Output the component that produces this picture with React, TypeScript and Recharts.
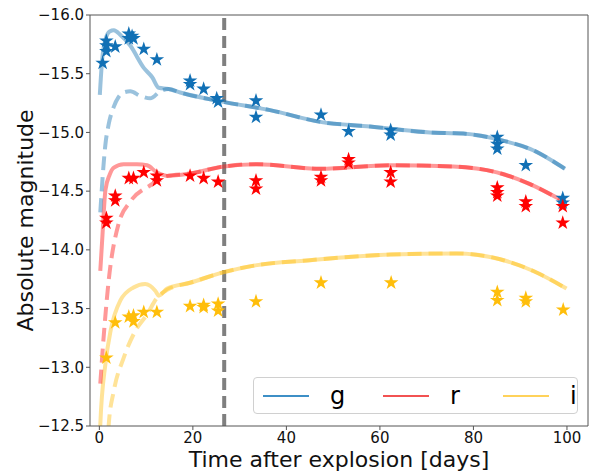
import React from 'react'
import {
  ComposedChart,
  Line,
  Scatter,
  XAxis,
  YAxis,
  ZAxis,
  ReferenceLine,
  Legend,
} from 'recharts'

// observed photometry (days since explosion, absolute magnitude)
const gObs = [
  { t: 0.7, m: -15.59 }, { t: 1.5, m: -15.69 }, { t: 1.5, m: -15.74 }, { t: 1.5, m: -15.78 },
  { t: 3.4, m: -15.73 }, { t: 6.3, m: -15.84 }, { t: 6.3, m: -15.8 }, { t: 7.0, m: -15.82 },
  { t: 7.3, m: -15.8 }, { t: 9.5, m: -15.71 }, { t: 12.3, m: -15.62 }, { t: 19.4, m: -15.44 },
  { t: 19.4, m: -15.41 }, { t: 22.3, m: -15.37 }, { t: 25.1, m: -15.29 }, { t: 25.4, m: -15.26 },
  { t: 33.5, m: -15.27 }, { t: 33.5, m: -15.13 }, { t: 47.4, m: -15.15 }, { t: 53.3, m: -15.01 },
  { t: 62.3, m: -15.02 }, { t: 62.3, m: -14.98 }, { t: 85.1, m: -14.96 }, { t: 85.1, m: -14.9 },
  { t: 85.1, m: -14.86 }, { t: 91.2, m: -14.72 }, { t: 99.1, m: -14.44 }, { t: 99.1, m: -14.4 },
]
const rObs = [
  { t: 1.5, m: -14.27 }, { t: 1.5, m: -14.23 }, { t: 3.4, m: -14.46 }, { t: 3.4, m: -14.42 },
  { t: 6.3, m: -14.61 }, { t: 7.3, m: -14.61 }, { t: 9.5, m: -14.66 }, { t: 12.3, m: -14.63 },
  { t: 12.3, m: -14.59 }, { t: 19.4, m: -14.63 }, { t: 22.3, m: -14.61 }, { t: 25.4, m: -14.58 },
  { t: 33.5, m: -14.59 }, { t: 33.5, m: -14.52 }, { t: 47.4, m: -14.62 }, { t: 47.4, m: -14.59 },
  { t: 53.3, m: -14.77 }, { t: 53.3, m: -14.74 }, { t: 62.3, m: -14.66 }, { t: 62.3, m: -14.58 },
  { t: 85.1, m: -14.53 }, { t: 85.1, m: -14.49 }, { t: 85.1, m: -14.46 }, { t: 91.2, m: -14.41 },
  { t: 91.2, m: -14.37 }, { t: 99.1, m: -14.37 }, { t: 99.1, m: -14.23 },
]
const iObs = [
  { t: 1.5, m: -13.08 }, { t: 3.4, m: -13.38 }, { t: 6.3, m: -13.43 }, { t: 7.3, m: -13.44 },
  { t: 7.3, m: -13.39 }, { t: 9.5, m: -13.47 }, { t: 12.3, m: -13.47 }, { t: 19.4, m: -13.52 },
  { t: 22.3, m: -13.53 }, { t: 22.3, m: -13.51 }, { t: 25.4, m: -13.54 }, { t: 25.4, m: -13.48 },
  { t: 33.5, m: -13.56 }, { t: 47.4, m: -13.72 }, { t: 62.4, m: -13.72 }, { t: 85.1, m: -13.64 },
  { t: 85.1, m: -13.57 }, { t: 91.2, m: -13.59 }, { t: 91.2, m: -13.56 }, { t: 99.2, m: -13.49 },
]

// model light curves: solid = with early excess, dashed = without
const gModelA = [
  { t: 0.1, m: -15.32 }, { t: 0.6, m: -15.62 }, { t: 1.3, m: -15.79 }, { t: 2.2, m: -15.86 },
  { t: 3.1, m: -15.87 }, { t: 4.5, m: -15.83 }, { t: 6.6, m: -15.74 }, { t: 9.5, m: -15.55 },
  { t: 11.3, m: -15.47 }, { t: 12.7, m: -15.38 }, { t: 14.8, m: -15.37 }, { t: 17.3, m: -15.34 },
  { t: 26.5, m: -15.26 }, { t: 36.5, m: -15.19 }, { t: 47.2, m: -15.09 }, { t: 57.9, m: -15.05 },
  { t: 70.7, m: -15.0 }, { t: 77.8, m: -14.99 }, { t: 86.3, m: -14.93 }, { t: 92.1, m: -14.86 },
  { t: 99.6, m: -14.69 },
]
const gModelB = [
  { t: 0.2, m: -14.32 }, { t: 1.3, m: -14.9 }, { t: 2.0, m: -15.07 }, { t: 3.1, m: -15.22 },
  { t: 4.1, m: -15.3 }, { t: 5.2, m: -15.34 }, { t: 6.6, m: -15.35 }, { t: 8.8, m: -15.31 },
  { t: 10.9, m: -15.29 }, { t: 13.0, m: -15.35 }, { t: 14.8, m: -15.37 }, { t: 17.3, m: -15.34 },
  { t: 26.5, m: -15.26 }, { t: 36.5, m: -15.19 }, { t: 47.2, m: -15.09 }, { t: 57.9, m: -15.05 },
  { t: 70.7, m: -15.0 }, { t: 77.8, m: -14.99 }, { t: 86.3, m: -14.93 }, { t: 92.1, m: -14.86 },
  { t: 99.6, m: -14.69 },
]
const rModelA = [
  { t: 0.2, m: -13.82 }, { t: 0.6, m: -14.08 }, { t: 1.3, m: -14.51 }, { t: 2.2, m: -14.64 },
  { t: 3.1, m: -14.7 }, { t: 5.2, m: -14.73 }, { t: 8.0, m: -14.73 }, { t: 10.2, m: -14.72 },
  { t: 12.3, m: -14.66 }, { t: 14.5, m: -14.63 }, { t: 19.4, m: -14.65 }, { t: 26.6, m: -14.71 },
  { t: 33.7, m: -14.73 }, { t: 47.2, m: -14.69 }, { t: 62.2, m: -14.72 }, { t: 75.7, m: -14.71 },
  { t: 85.0, m: -14.66 }, { t: 92.1, m: -14.56 }, { t: 98.5, m: -14.43 },
]
const rModelB = [
  { t: 0.2, m: -12.86 }, { t: 1.0, m: -13.3 }, { t: 2.0, m: -13.74 }, { t: 4.1, m: -14.22 },
  { t: 6.6, m: -14.41 }, { t: 10.9, m: -14.55 }, { t: 14.5, m: -14.63 }, { t: 19.4, m: -14.65 },
  { t: 26.6, m: -14.71 }, { t: 33.7, m: -14.73 }, { t: 47.2, m: -14.69 }, { t: 62.2, m: -14.72 },
  { t: 75.7, m: -14.71 }, { t: 85.0, m: -14.66 }, { t: 92.1, m: -14.56 }, { t: 98.5, m: -14.43 },
]
const iModelA = [
  { t: 0.0, m: -12.3 }, { t: 0.2, m: -12.51 }, { t: 1.3, m: -13.03 }, { t: 2.4, m: -13.31 },
  { t: 4.5, m: -13.57 }, { t: 7.3, m: -13.68 }, { t: 9.8, m: -13.71 }, { t: 12.0, m: -13.65 },
  { t: 12.7, m: -13.61 }, { t: 14.5, m: -13.67 }, { t: 19.4, m: -13.72 }, { t: 26.6, m: -13.81 },
  { t: 33.7, m: -13.87 }, { t: 44.4, m: -13.91 }, { t: 62.2, m: -13.96 }, { t: 76.4, m: -13.97 },
  { t: 85.7, m: -13.92 }, { t: 92.8, m: -13.82 }, { t: 99.9, m: -13.67 },
]
const iModelB = [
  { t: 1.7, m: -12.3 }, { t: 2.0, m: -12.51 }, { t: 3.1, m: -12.8 }, { t: 5.2, m: -13.08 },
  { t: 7.7, m: -13.31 }, { t: 10.2, m: -13.45 }, { t: 12.3, m: -13.59 }, { t: 14.5, m: -13.66 },
  { t: 19.4, m: -13.72 }, { t: 26.6, m: -13.81 }, { t: 33.7, m: -13.87 }, { t: 44.4, m: -13.91 },
  { t: 62.2, m: -13.96 }, { t: 76.4, m: -13.97 }, { t: 85.7, m: -13.92 }, { t: 92.8, m: -13.82 },
  { t: 99.9, m: -13.67 },
]

const xTicks = [0, 20, 40, 60, 80, 100]
const yTicks = [-16, -15.5, -15, -14.5, -14, -13.5, -13, -12.5]
const xDomain = [-2, 104.5]
const yDomain = [-16, -12.5]
const peakDay = 26.7

const bands = [
  { name: 'g', star: '#1170b5', line: '#1f77b4', key: '#3d8fc6', obs: gObs, a: gModelA, b: gModelB },
  { name: 'r', star: '#ff0000', line: '#ff1a1a', key: '#f25252', obs: rObs, a: rModelA, b: rModelB },
  { name: 'i', star: '#ffbe0b', line: '#ffc21a', key: '#ffd25a', obs: iObs, a: iModelA, b: iModelB },
]

const font = '"DejaVu Sans", sans-serif'
const axisColor = '#555'
const fmt = (v: number) => v.toFixed(1).replace('-', '\u2212')

function BandLegend() {
  return (
    <div
      style={{
        display: 'flex',
        alignItems: 'center',
        width: 325,
        height: 37,
        border: '1px solid #d0d0d0',
        borderRadius: 4,
        background: 'rgba(255,255,255,0.8)',
        fontFamily: font,
        fontSize: 24,
        boxSizing: 'border-box',
      }}
    >
      {bands.map((b) => (
        <div
          key={b.name}
          style={{ display: 'flex', alignItems: 'center', width: 120, flexShrink: 0, paddingLeft: 9, boxSizing: 'border-box' }}
        >
          <span style={{ display: 'inline-block', width: 46, height: 2, background: b.key, marginRight: 21 }} />
          <span style={{ lineHeight: '24px' }}>{b.name}</span>
        </div>
      ))}
    </div>
  )
}

export default function App() {
  return (
    <div style={{ position: 'absolute', left: 0, top: 0 }}>
      <ComposedChart width={593} height={471} margin={{ top: 15, right: 5, left: 0, bottom: 0 }}>
        <XAxis
          dataKey="t"
          type="number"
          domain={xDomain}
          allowDataOverflow
          ticks={xTicks}
          tickSize={4}
          height={45}
          stroke={axisColor}
          tick={{ fill: '#111', fontSize: 15, fontFamily: font }}
          label={{ value: 'Time after explosion [days]', position: 'insideBottom', offset: 4, fill: '#111', fontSize: 22, fontFamily: font }}
        />
        <YAxis
          dataKey="m"
          type="number"
          reversed
          domain={yDomain}
          allowDataOverflow
          ticks={yTicks}
          tickFormatter={fmt}
          tickSize={4}
          width={90}
          stroke={axisColor}
          tick={{ fill: '#111', fontSize: 15, fontFamily: font }}
          label={{ value: 'Absolute magnitude', angle: -90, position: 'center', dx: -20, fill: '#111', fontSize: 22, fontFamily: font }}
        />
        <ZAxis range={[66, 66]} />
        {/* top and right spines to close the frame */}
        <ReferenceLine y={yDomain[0]} stroke={axisColor} />
        <ReferenceLine x={xDomain[1]} stroke={axisColor} />
        <ReferenceLine x={peakDay} stroke="#7f7f7f" strokeWidth={4} strokeDasharray="12 6" />
        {bands.map((b) => (
          <Line
            key={b.name + '-a'}
            data={b.a}
            dataKey="m"
            type="monotone"
            stroke={b.line}
            strokeOpacity={0.45}
            strokeWidth={4}
            dot={false}
            isAnimationActive={false}
          />
        ))}
        {bands.map((b) => (
          <Line
            key={b.name + '-b'}
            data={b.b}
            dataKey="m"
            type="monotone"
            stroke={b.line}
            strokeOpacity={0.45}
            strokeWidth={4}
            strokeDasharray="14 7"
            dot={false}
            isAnimationActive={false}
          />
        ))}
        {bands.map((b) => (
          <Scatter key={b.name + '-obs'} data={b.obs} fill={b.star} shape="star" isAnimationActive={false} />
        ))}
        <Legend
          layout="horizontal"
          verticalAlign="middle"
          align="center"
          content={() => <BandLegend />}
          wrapperStyle={{ left: 253, top: 377, width: 325 }}
        />
      </ComposedChart>
    </div>
  )
}
